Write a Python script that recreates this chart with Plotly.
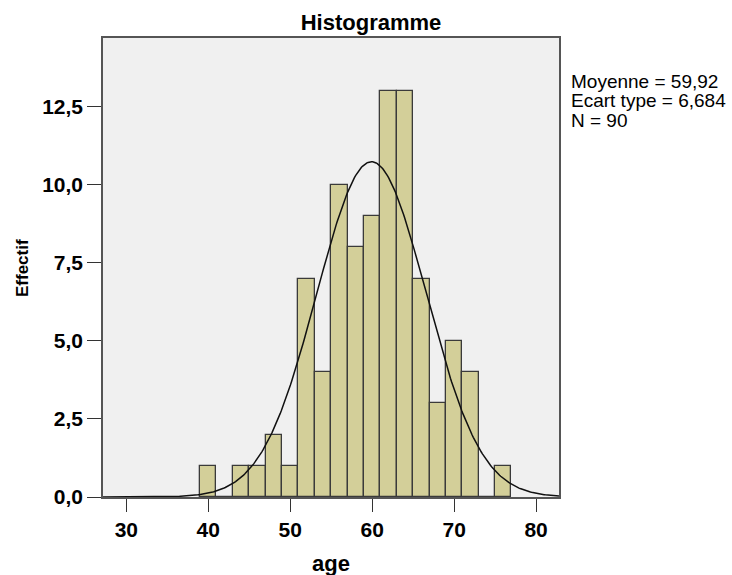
import numpy as np
import plotly.graph_objects as go

# Data
bin_centers = [40, 42, 44, 46, 48, 50, 52, 54, 56, 58, 60, 62, 64, 66, 68, 70, 72, 74, 76]
counts      = [1,  0,  1,  1,  2,  1,  7,  4,  10, 8,  9,  13, 13, 7,  3,  5,  4,  0,  1]
bin_width = 2
mean_age = 59.92
sd_age = 6.684
n_obs = 90
stats_lines = ["Moyenne = 59,92", "Ecart type = 6,684", "N = 90"]
x_ticks = [30, 40, 50, 60, 70, 80]
y_ticks = [0, 2.5, 5, 7.5, 10, 12.5]

sans = "Liberation Sans, Arial, sans-serif"

fig = go.Figure()
fig.add_trace(go.Bar(
    x=bin_centers, y=counts, width=bin_width,
    marker=dict(color="#D3CF99", line=dict(color="#3a3a3a", width=1.3)),
    hoverinfo="skip", showlegend=False,
))
xs = np.linspace(27.15, 82.8, 400)
ys = n_obs * bin_width / (sd_age * np.sqrt(2 * np.pi)) * np.exp(-0.5 * ((xs - mean_age) / sd_age) ** 2)
fig.add_trace(go.Scatter(x=xs, y=ys, mode="lines", line=dict(color="#111111", width=1.5),
                         hoverinfo="skip", showlegend=False))

for i, t in enumerate(stats_lines):
    fig.add_annotation(xref="paper", yref="paper", x=1.0, xshift=10, y=1, yshift=-43 - 19.5 * i,
                       text=t, showarrow=False, xanchor="left", yanchor="middle",
                       font=dict(family=sans, size=19, color="#000"))

# axis titles
fig.add_annotation(xref="paper", yref="paper", x=0.5, y=0, yshift=-66, text="<b>age</b>",
                   showarrow=False, xanchor="center", yanchor="middle",
                   font=dict(family=sans, size=22, color="#000"))
fig.add_annotation(xref="paper", yref="paper", x=0, xshift=-81, y=(497 - 268) / 459, text="<b>Effectif</b>",
                   textangle=-90, showarrow=False, xanchor="center", yanchor="middle",
                   font=dict(family=sans, size=17, color="#000"))

fig.update_layout(
    width=732, height=575,
    margin=dict(l=103, r=173, t=38, b=78, pad=0),
    paper_bgcolor="white", plot_bgcolor="#F0F0F0",
    bargap=0,
    title=dict(text="<b>Histogramme</b>", x=371 / 732, xanchor="center", y=1 - 22 / 575, yanchor="middle",
               font=dict(family=sans, size=22, color="#000")),
    xaxis=dict(range=[27.15, 82.8], tickvals=x_ticks, ticktext=[f"<b>{v}</b>" for v in x_ticks],
               ticks="outside", ticklen=13, tickcolor="#333", tickwidth=1.4,
               showgrid=False, zeroline=False, showline=True, linecolor="#555", linewidth=1.5, mirror=True,
               tickfont=dict(family=sans, size=21, color="#000")),
    yaxis=dict(range=[0, 14.71], tickvals=y_ticks,
               ticktext=["<b>" + f"{v:.1f}".replace(".", ",") + "</b>" for v in y_ticks],
               ticks="outside", ticklen=14, tickcolor="#333", tickwidth=1.4,
               showgrid=False, zeroline=False, showline=True, linecolor="#555", linewidth=1.5, mirror=True,
               tickfont=dict(family=sans, size=21, color="#000")),
)

fig.write_html("out.html")
